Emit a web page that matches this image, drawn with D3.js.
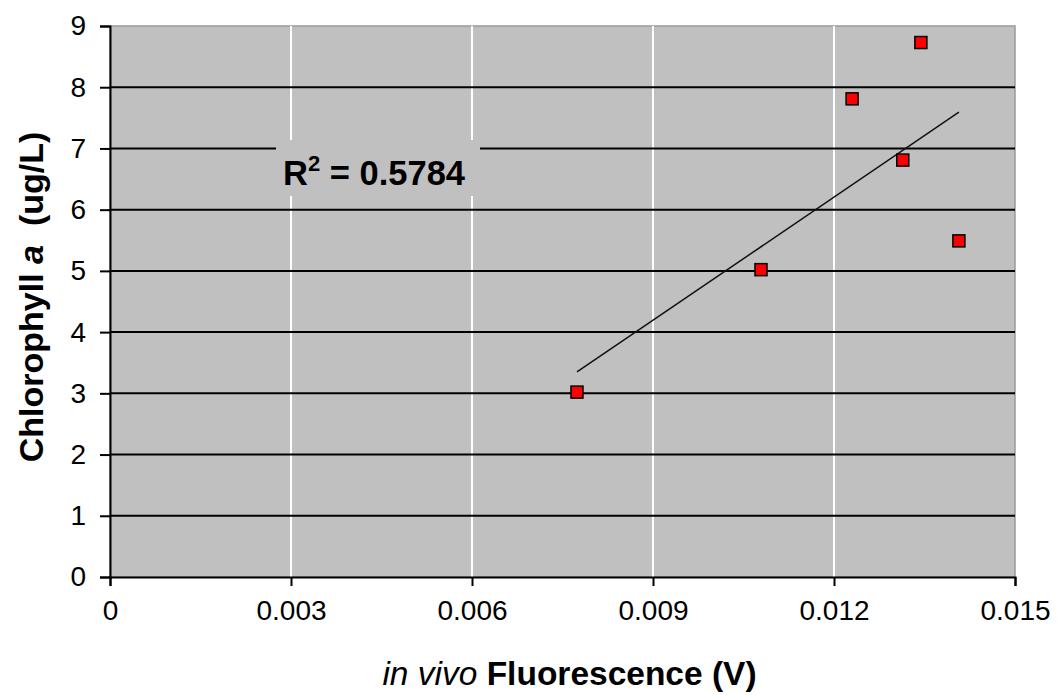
<!DOCTYPE html>
<html>
<head>
<meta charset="utf-8">
<script src="https://cdn.jsdelivr.net/npm/d3@7"></script>
<style>
  body { margin: 0; background: #fff; }
  text { font-family: "Liberation Sans", Arial, sans-serif; }
</style>
</head>
<body>
<div id="chart"></div>
<script>
// data
var fluorescence = [0.00774, 0.01079, 0.0123, 0.01314, 0.01344, 0.01407];
var chlorophyll  = [3.02, 5.02, 7.81, 6.81, 8.73, 5.49];
var xTicks = [0, 0.003, 0.006, 0.009, 0.012, 0.015];
var yTicks = [0, 1, 2, 3, 4, 5, 6, 7, 8, 9];
var rSquaredLabel = "0.5784";

var margin = {top: 26, right: 43, bottom: 118, left: 110},
    width = 1058 - margin.left - margin.right,
    height = 695 - margin.top - margin.bottom;

var x = d3.scaleLinear().domain([0, 0.015]).range([0, width]);
var y = d3.scaleLinear().domain([0, 9]).range([height, 0]);

var svg = d3.select("#chart")
  .append("svg")
  .attr("width", 1058)
  .attr("height", 695)
  .append("g")
  .attr("transform", "translate(" + margin.left + "," + margin.top + ")");

// plot background
svg.append("rect")
  .attr("width", width)
  .attr("height", height)
  .attr("fill", "#c0c0c0")
  .attr("stroke", "#9a9a9a")
  .attr("stroke-width", 1.5);

// vertical gridlines (white)
svg.selectAll(".vgrid")
  .data(xTicks.slice(1, -1))
  .enter()
  .append("line")
  .attr("x1", function(d) { return x(d); })
  .attr("x2", function(d) { return x(d); })
  .attr("y1", 0)
  .attr("y2", height)
  .attr("stroke", "#fff")
  .attr("stroke-width", 2);

// horizontal gridlines (black)
svg.selectAll(".hgrid")
  .data(yTicks.slice(1, -1))
  .enter()
  .append("line")
  .attr("x1", 0)
  .attr("x2", width)
  .attr("y1", function(d) { return y(d); })
  .attr("y2", function(d) { return y(d); })
  .attr("stroke", "#000")
  .attr("stroke-width", 2);

// linear trendline from least squares
var mx = d3.mean(fluorescence),
    my = d3.mean(chlorophyll),
    sxy = d3.sum(fluorescence, function(d, i) { return (d - mx) * (chlorophyll[i] - my); }),
    sxx = d3.sum(fluorescence, function(d) { return (d - mx) * (d - mx); }),
    slope = sxy / sxx,
    icpt = my - slope * mx;
var xMin = d3.min(fluorescence), xMax = d3.max(fluorescence);

svg.append("line")
  .attr("x1", x(xMin))
  .attr("y1", y(icpt + slope * xMin))
  .attr("x2", x(xMax))
  .attr("y2", y(icpt + slope * xMax))
  .attr("stroke", "#111")
  .attr("stroke-width", 1.5);

// R^2 label with plot-coloured background
var label = svg.append("g").attr("transform", "translate(" + 166 + "," + 114 + ")");
label.append("rect")
  .attr("width", 204)
  .attr("height", 56)
  .attr("fill", "#c0c0c0");
var lt = label.append("text")
  .attr("x", 7)
  .attr("y", 45)
  .style("font-size", "34.5px")
  .style("font-weight", "bold");
lt.append("tspan").text("R");
lt.append("tspan").attr("dy", -14).style("font-size", "22px").text("2");
lt.append("tspan").attr("dy", 14).text(" = " + rSquaredLabel);

// points
svg.selectAll(".dot")
  .data(fluorescence)
  .enter()
  .append("rect")
  .attr("class", "dot")
  .attr("x", function(d) { return x(d) - 6; })
  .attr("y", function(d, i) { return y(chlorophyll[i]) - 6; })
  .attr("width", 12)
  .attr("height", 12)
  .attr("fill", "#ff0000")
  .attr("stroke", "#000")
  .attr("stroke-width", 1.5);

// axes
var xAxis = svg.append("g")
  .attr("transform", "translate(0," + height + ")")
  .call(d3.axisBottom(x).tickValues(xTicks).tickSize(9).tickPadding(14)
    .tickFormat(function(d) { return d === 0 ? "0" : d3.format(".3f")(d); }));
var yAxis = svg.append("g")
  .call(d3.axisLeft(y).tickValues(yTicks).tickSize(10).tickPadding(14));

[xAxis, yAxis].forEach(function(a) {
  a.select(".domain").attr("stroke", "#000").attr("stroke-width", 2);
  a.selectAll(".tick line").attr("stroke", "#000").attr("stroke-width", 2);
  a.selectAll(".tick text")
    .attr("fill", "#000")
    .style("font-size", "28px")
    .style("font-family", "'Liberation Sans', Arial, sans-serif");
});

// axis titles
var xt = svg.append("text")
  .attr("x", width / 2 + 7)
  .attr("y", height + 108)
  .style("text-anchor", "middle")
  .style("font-size", "33.5px");
xt.append("tspan").style("font-style", "italic").text("in vivo");
xt.append("tspan").style("font-weight", "bold").text(" Fluorescence (V)");

var yt = svg.append("text")
  .attr("transform", "rotate(-90)")
  .attr("x", -(297 - margin.top))
  .attr("y", 43 - margin.left)
  .style("text-anchor", "middle")
  .style("font-size", "34px")
  .style("font-weight", "bold");
yt.append("tspan").text("Chlorophyll ");
yt.append("tspan").style("font-style", "italic").text("a");
yt.append("tspan").text("\u00a0 (ug/L)");
</script>
</body>
</html>
